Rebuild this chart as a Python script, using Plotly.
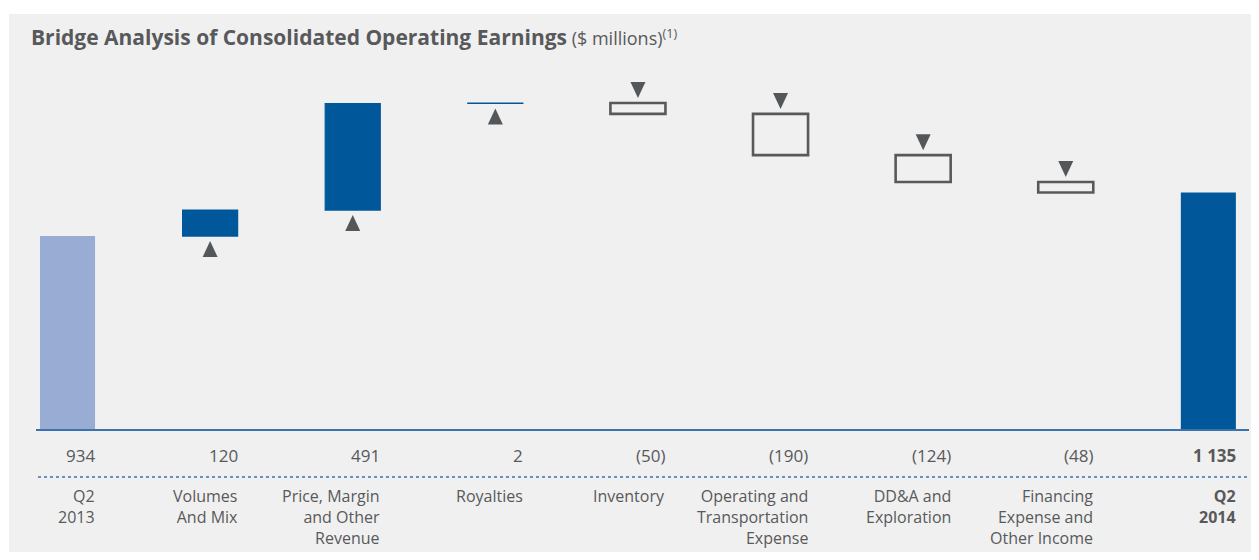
import plotly.graph_objects as go

# data ($ millions)
categories = ['Q2<br>2013', 'Volumes<br>And Mix', 'Price, Margin<br>and Other<br>Revenue', 'Royalties',
              'Inventory', 'Operating and<br>Transportation<br>Expense', 'DD&amp;A and<br>Exploration',
              'Financing<br>Expense and<br>Other Income', '<b>Q2<br>2014</b>']
start_value = 934
deltas = [120, 491, 2, -50, -190, -124, -48]
end_value = 1135

colors = {'start': '#99add4', 'up': '#00579a', 'end': '#00579a', 'down_line': '#58595b',
          'arrow': '#54575a', 'text': '#58595b', 'axis': '#3a73ad', 'bg': '#f0f0f0'}

# the page body has an 8px margin, so the figure is sized to fit inside the window
W, H = 1243, 544
M = dict(l=28, r=2, t=52, b=123)
PLOT_H = H - M['t'] - M['b']
PLOT_W = W - M['l'] - M['r']
PX_PER_UNIT = 0.217
FLOOR = 45   # value sitting on the baseline (the original chart's axis is not zero-based)
BAR_W = 0.386
FONT = 'Open Sans'


def fmt(v, bold=False):
    s = f'{abs(v):,}'.replace(',', ' ')
    if v < 0:
        s = f'({s})'
    return f'<b>{s}</b>' if bold else s


# running totals
before, after = [], []
run = start_value
for d in deltas:
    before.append(run)
    run += d
    after.append(run)

up_x = [i + 1 for i, d in enumerate(deltas) if d >= 0]
down_x = [i + 1 for i, d in enumerate(deltas) if d < 0]

fig = go.Figure()
fig.add_bar(x=[0], y=[start_value - FLOOR], base=[FLOOR], width=BAR_W,
            marker=dict(color=colors['start'], line=dict(width=0)))
fig.add_bar(x=up_x, y=[d for d in deltas if d >= 0], base=[b for b, d in zip(before, deltas) if d >= 0],
            width=BAR_W, marker=dict(color=colors['up'], line=dict(color=colors['up'], width=1.2)))
fig.add_bar(x=down_x, y=[-d for d in deltas if d < 0], base=[a for a, d in zip(after, deltas) if d < 0],
            width=BAR_W, marker=dict(color='rgba(0,0,0,0)', line=dict(color=colors['down_line'], width=2.6)))
fig.add_bar(x=[len(categories) - 1], y=[end_value - FLOOR], base=[FLOOR], width=BAR_W,
            marker=dict(color=colors['end'], line=dict(width=0)))

base_px = H - M['b']  # pixel row of the baseline inside the figure
shapes = []
# grey panel behind everything
shapes.append(dict(type='rect', xref='paper', yref='paper', layer='below',
                   x0=(1 - M['l']) / PLOT_W, x1=(W + 10 - M['l']) / PLOT_W,
                   y0=-(H + 10 - base_px) / PLOT_H, y1=(base_px - 6) / PLOT_H,
                   fillcolor=colors['bg'], line=dict(width=0)))
# dotted separator between values and labels
shapes.append(dict(type='line', xref='paper', yref='paper',
                   x0=(30 - M['l']) / PLOT_W, x1=1, y0=-48 / PLOT_H, y1=-48 / PLOT_H,
                   line=dict(color=colors['axis'], width=1.5, dash='dot')))
# arrows: up below rising bars, down above falling boxes
for i, d in enumerate(deltas):
    if d >= 0:
        path = 'M-7.5,-21 L7.5,-21 L0,-5 Z'
    else:
        path = 'M-7.5,21 L7.5,21 L0,5 Z'
    shapes.append(dict(type='path', xref='x', yref='y', xsizemode='pixel', ysizemode='pixel',
                       xanchor=i + 1, yanchor=before[i], path=path,
                       fillcolor=colors['arrow'], line=dict(width=0)))

annotations = []
values = [start_value] + deltas + [end_value]
for i, (v, cat) in enumerate(zip(values, categories)):
    last = i == len(categories) - 1
    annotations.append(dict(x=i + BAR_W / 2, y=0, xref='x', yref='paper', xanchor='right', yanchor='middle',
                            yshift=-26, xshift=2, showarrow=False, text=fmt(v, bold=last),
                            font=dict(family=FONT, size=17, color=colors['text'])))
    annotations.append(dict(x=i + BAR_W / 2, y=0, xref='x', yref='paper', xanchor='right', yanchor='top',
                            yshift=-54, xshift=2, showarrow=False, text=cat, align='right',
                            font=dict(family=FONT, size=16, color=colors['text'])))

fig.update_layout(
    width=W, height=H, margin=M, showlegend=False, barmode='overlay',
    paper_bgcolor='white', plot_bgcolor='rgba(0,0,0,0)',
    title=dict(text='<b>Bridge Analysis of Consolidated Operating Earnings</b>'
                    '<span style="font-size:18px"> ($ millions)<sup>(1)</sup></span>',
               x=23 / W, xanchor='left', xref='container', y=1 - 30 / H, yanchor='middle', yref='container',
               font=dict(family=FONT, size=21, color=colors['text'])),
    shapes=shapes, annotations=annotations,
)
fig.update_xaxes(range=[-0.221, 8.285], showticklabels=False, showgrid=False, zeroline=False,
                 showline=True, linecolor=colors['axis'], linewidth=2, fixedrange=True)
fig.update_yaxes(range=[FLOOR, FLOOR + PLOT_H / PX_PER_UNIT], visible=False, showgrid=False, fixedrange=True)

fig.write_html("out.html")
